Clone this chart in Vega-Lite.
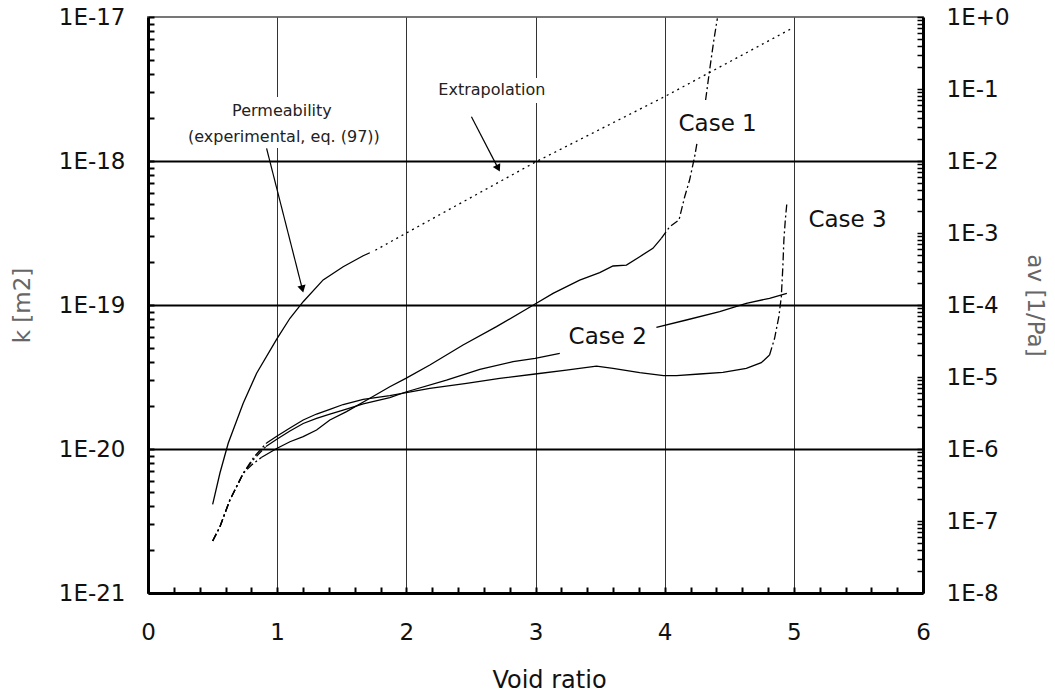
{
  "$schema": "https://vega.github.io/schema/vega-lite/v6.json",
  "width": 775,
  "height": 576,
  "autosize": {"type": "none"},
  "padding": {"left": 148, "top": 17, "right": 132, "bottom": 103},
  "config": {
    "view": {"stroke": "#777", "strokeWidth": 2},
    "axis": {"labelFont": "DejaVu Sans", "titleFont": "DejaVu Sans"},
    "text": {"font": "DejaVu Sans"}
  },
  "datasets": {
    "perm": [
      {"x": 0.5006, "y": 4.13e-21}, {"x": 0.557, "y": 6.81e-21}, {"x": 0.621, "y": 1.096e-20},
      {"x": 0.737, "y": 2.075e-20}, {"x": 0.841, "y": 3.357e-20}, {"x": 1.0, "y": 5.87e-20},
      {"x": 1.099, "y": 8.09e-20}, {"x": 1.2015, "y": 1.054e-19}, {"x": 1.356, "y": 1.493e-19},
      {"x": 1.511, "y": 1.845e-19}, {"x": 1.666, "y": 2.198e-19}, {"x": 1.7176, "y": 2.307e-19}
    ],
    "extrap": [
      {"x": 1.76, "y": 2.4e-19}, {"x": 2.0, "y": 3.16e-19}, {"x": 3.0, "y": 9.84e-19},
      {"x": 4.0, "y": 2.8e-18}, {"x": 4.972, "y": 8.22e-18}
    ],
    "boxes": [
      {"x": 0.248, "x2": 1.857, "y": 2.78e-18, "y2": 1.23e-18},
      {"x": 2.18, "x2": 3.16, "y": 3.77e-18, "y2": 2.53e-18}
    ],
    "smallLabels": [
      {"x": 1.037, "y": 2.22e-18, "label": "Permeability"},
      {"x": 1.052, "y": 1.468e-18, "label": "(experimental, eq. (97))"},
      {"x": 2.662, "y": 3.11e-18, "label": "Extrapolation"}
    ],
    "bigLabels": [
      {"x": 4.41, "y": 1.807e-18, "label": "Case 1"},
      {"x": 5.416, "y": 3.89e-19, "label": "Case 3"},
      {"x": 3.559, "y": 6.0e-20, "label": "Case 2"}
    ],
    "arrows": [
      {"x": 0.918, "y": 1.225e-18, "x2": 1.195, "y2": 1.291e-19},
      {"x": 2.504, "y": 2.03e-18, "x2": 2.711, "y2": 8.89e-19}
    ],
    "casesSolid": [
      {"seg": "c1", "x": 0.88, "y": 7.67e-7}, {"seg": "c1", "x": 1.0, "y": 1.023e-6},
      {"seg": "c1", "x": 1.099, "y": 1.262e-6}, {"seg": "c1", "x": 1.2015, "y": 1.483e-6},
      {"seg": "c1", "x": 1.305, "y": 1.836e-6}, {"seg": "c1", "x": 1.408, "y": 2.53e-6},
      {"seg": "c1", "x": 1.537, "y": 3.3e-6}, {"seg": "c1", "x": 1.718, "y": 5.06e-6},
      {"seg": "c1", "x": 1.872, "y": 7.33e-6}, {"seg": "c1", "x": 1.996, "y": 9.59e-6},
      {"seg": "c1", "x": 2.182, "y": 1.468e-5}, {"seg": "c1", "x": 2.439, "y": 2.78e-5},
      {"seg": "c1", "x": 2.698, "y": 5.0e-5}, {"seg": "c1", "x": 2.997, "y": 1.032e-4},
      {"seg": "c1", "x": 3.136, "y": 1.453e-4}, {"seg": "c1", "x": 3.342, "y": 2.22e-4},
      {"seg": "c1", "x": 3.497, "y": 2.81e-4}, {"seg": "c1", "x": 3.6, "y": 3.48e-4},
      {"seg": "c1", "x": 3.704, "y": 3.59e-4}, {"seg": "c1", "x": 3.807, "y": 4.69e-4},
      {"seg": "c1", "x": 3.909, "y": 6.13e-4}, {"seg": "c1", "x": 3.974, "y": 8.44e-4},
      {"seg": "c2a", "x": 0.913, "y": 1.083e-6}, {"seg": "c2a", "x": 1.0, "y": 1.377e-6},
      {"seg": "c2a", "x": 1.099, "y": 1.778e-6}, {"seg": "c2a", "x": 1.2015, "y": 2.26e-6},
      {"seg": "c2a", "x": 1.305, "y": 2.67e-6}, {"seg": "c2a", "x": 1.408, "y": 3.06e-6},
      {"seg": "c2a", "x": 1.511, "y": 3.48e-6}, {"seg": "c2a", "x": 1.666, "y": 4.22e-6},
      {"seg": "c2a", "x": 1.872, "y": 5.19e-6}, {"seg": "c2a", "x": 1.996, "y": 6.19e-6},
      {"seg": "c2a", "x": 2.311, "y": 9.08e-6}, {"seg": "c2a", "x": 2.569, "y": 1.28e-5},
      {"seg": "c2a", "x": 2.826, "y": 1.63e-5}, {"seg": "c2a", "x": 2.997, "y": 1.82e-5},
      {"seg": "c2a", "x": 3.188, "y": 2.13e-5},
      {"seg": "c2b", "x": 3.936, "y": 4.9e-5}, {"seg": "c2b", "x": 4.168, "y": 6.19e-5},
      {"seg": "c2b", "x": 4.426, "y": 8.07e-5}, {"seg": "c2b", "x": 4.632, "y": 1.056e-4},
      {"seg": "c2b", "x": 4.812, "y": 1.239e-4}, {"seg": "c2b", "x": 4.946, "y": 1.453e-4},
      {"seg": "c3", "x": 0.918, "y": 1.211e-6}, {"seg": "c3", "x": 1.0, "y": 1.517e-6},
      {"seg": "c3", "x": 1.099, "y": 1.958e-6}, {"seg": "c3", "x": 1.2015, "y": 2.53e-6},
      {"seg": "c3", "x": 1.305, "y": 3.06e-6}, {"seg": "c3", "x": 1.408, "y": 3.56e-6},
      {"seg": "c3", "x": 1.511, "y": 4.15e-6}, {"seg": "c3", "x": 1.666, "y": 4.9e-6},
      {"seg": "c3", "x": 1.872, "y": 5.53e-6}, {"seg": "c3", "x": 2.182, "y": 6.97e-6},
      {"seg": "c3", "x": 2.466, "y": 8.18e-6}, {"seg": "c3", "x": 2.723, "y": 9.59e-6},
      {"seg": "c3", "x": 2.997, "y": 1.1e-5}, {"seg": "c3", "x": 3.239, "y": 1.25e-5},
      {"seg": "c3", "x": 3.472, "y": 1.42e-5}, {"seg": "c3", "x": 3.6, "y": 1.32e-5},
      {"seg": "c3", "x": 3.807, "y": 1.148e-5}, {"seg": "c3", "x": 3.992, "y": 1.042e-5},
      {"seg": "c3", "x": 4.091, "y": 1.042e-5}, {"seg": "c3", "x": 4.271, "y": 1.1e-5},
      {"seg": "c3", "x": 4.451, "y": 1.162e-5}, {"seg": "c3", "x": 4.632, "y": 1.32e-5},
      {"seg": "c3", "x": 4.748, "y": 1.58e-5}, {"seg": "c3", "x": 4.812, "y": 2.02e-5}
    ],
    "casesDash": [
      {"seg": "d1a", "x": 0.5006, "y": 5.27e-8}, {"seg": "d1a", "x": 0.557, "y": 8.34e-8},
      {"seg": "d1a", "x": 0.634, "y": 1.96e-7}, {"seg": "d1a", "x": 0.699, "y": 3.34e-7},
      {"seg": "d1a", "x": 0.737, "y": 4.59e-7}, {"seg": "d1a", "x": 0.802, "y": 6.0e-7},
      {"seg": "d1a", "x": 0.88, "y": 7.67e-7},
      {"seg": "d1b", "x": 3.974, "y": 8.44e-4}, {"seg": "d1b", "x": 4.039, "y": 1.224e-3},
      {"seg": "d1b", "x": 4.111, "y": 1.517e-3}, {"seg": "d1b", "x": 4.155, "y": 3.19e-3},
      {"seg": "d1b", "x": 4.193, "y": 5.44e-3}, {"seg": "d1b", "x": 4.232, "y": 1.148e-2},
      {"seg": "d1b", "x": 4.25, "y": 1.762e-2},
      {"seg": "d1c", "x": 4.317, "y": 7.03e-2}, {"seg": "d1c", "x": 4.348, "y": 0.1837},
      {"seg": "d1c", "x": 4.381, "y": 0.48}, {"seg": "d1c", "x": 4.408, "y": 0.959},
      {"seg": "d2a", "x": 0.5006, "y": 5.27e-8}, {"seg": "d2a", "x": 0.557, "y": 8.34e-8},
      {"seg": "d2a", "x": 0.634, "y": 1.96e-7}, {"seg": "d2a", "x": 0.699, "y": 3.34e-7},
      {"seg": "d2a", "x": 0.737, "y": 4.59e-7}, {"seg": "d2a", "x": 0.82, "y": 7.26e-7},
      {"seg": "d2a", "x": 0.913, "y": 1.083e-6},
      {"seg": "d3a", "x": 0.5006, "y": 5.27e-8}, {"seg": "d3a", "x": 0.557, "y": 8.34e-8},
      {"seg": "d3a", "x": 0.634, "y": 1.96e-7}, {"seg": "d3a", "x": 0.699, "y": 3.34e-7},
      {"seg": "d3a", "x": 0.737, "y": 4.59e-7}, {"seg": "d3a", "x": 0.82, "y": 7.74e-7},
      {"seg": "d3a", "x": 0.918, "y": 1.211e-6},
      {"seg": "d3b", "x": 4.812, "y": 2.02e-5}, {"seg": "d3b", "x": 4.851, "y": 3.45e-5},
      {"seg": "d3b", "x": 4.884, "y": 6.88e-5}, {"seg": "d3b", "x": 4.903, "y": 1.303e-4},
      {"seg": "d3b", "x": 4.915, "y": 3.4e-4}, {"seg": "d3b", "x": 4.923, "y": 8.0e-4},
      {"seg": "d3b", "x": 4.934, "y": 1.517e-3}, {"seg": "d3b", "x": 4.946, "y": 2.585e-3}
    ]
  },
  "layer": [
    {
      "encoding": {
        "x": {
          "field": "x", "type": "quantitative",
          "scale": {"domain": [0, 6], "nice": false, "zero": false},
          "axis": {
            "orient": "bottom",
            "title": "Void ratio",
            "values": [0,1,2,3,4,5,6],
            "format": "d",
            "labelOverlap": false, "labelFlush": false, "labelBound": false,
            "grid": true, "gridColor": "#333", "gridWidth": 1,
            "gridOpacity": {"condition": {"test": "datum.value > 0 && datum.value < 6", "value": 1}, "value": 0},
            "ticks": false,
            "domainColor": "black", "domainWidth": 3,
            "labelFontSize": 23, "labelPadding": 28, "labelColor": "#111",
            "titleFontSize": 24, "titleFontWeight": "normal", "titleColor": "#111",
            "titleX": 401, "titleY": 75
          }
        }
      },
      "layer": [
        {
          "encoding": {
            "y": {
              "field": "y", "type": "quantitative",
              "scale": {"type": "log", "domain": [1e-21, 1e-17], "nice": false},
              "axis": {
                "orient": "left",
                "title": "k [m2]",
                "values": [1e-21, 1e-20, 1e-19, 1e-18, 1e-17],
                "labelExpr": "'1E' + round(log(datum.value)/LN10)",
                "labelOverlap": false, "labelFlush": false, "labelBound": false,
                "grid": true, "gridColor": "black", "gridWidth": 2,
                "gridOpacity": {"condition": {"test": "datum.value > 5e-21 && datum.value < 5e-18", "value": 1}, "value": 0},
                "ticks": false,
                "domainColor": "black", "domainWidth": 3,
                "labelFontSize": 23, "labelPadding": 23, "labelColor": "#111",
                "titleFontSize": 23, "titleFontWeight": "normal", "titleColor": "#666",
                "titlePadding": 24
              }
            }
          },
          "layer": [
            {"data": {"name": "perm"}, "mark": {"type": "line", "color": "black", "strokeWidth": 1.3}},
            {"data": {"name": "extrap"}, "mark": {"type": "line", "color": "black", "strokeWidth": 1.3, "strokeDash": [2, 4]}},
            {"data": {"name": "boxes"}, "mark": {"type": "rect", "color": "white", "opacity": 1},
             "encoding": {"x2": {"field": "x2"}, "y2": {"field": "y2"}}},
            {"data": {"name": "arrows"}, "mark": {"type": "rule", "color": "black", "strokeWidth": 1.2},
             "encoding": {"x2": {"field": "x2"}, "y2": {"field": "y2"}}},
            {"data": {"values": [{"x": 1.195, "y": 1.291e-19}]}, "mark": {"type": "point", "shape": "triangle-down", "filled": true, "color": "black", "opacity": 1, "size": 70, "angle": -14}},
            {"data": {"values": [{"x": 2.711, "y": 8.89e-19}]}, "mark": {"type": "point", "shape": "triangle-down", "filled": true, "color": "black", "opacity": 1, "size": 70, "angle": -27}},
            {"data": {"name": "smallLabels"}, "mark": {"type": "text", "fontSize": 16, "color": "#222", "align": "center", "baseline": "middle"},
             "encoding": {"text": {"field": "label"}}},
            {"data": {"name": "bigLabels"}, "mark": {"type": "text", "fontSize": 23, "color": "#111", "align": "center", "baseline": "middle"},
             "encoding": {"text": {"field": "label"}}}
          ]
        },
        {
          "data": {"name": "perm"},
          "mark": {"type": "point", "opacity": 0},
          "encoding": {
            "y": {
              "field": "y", "type": "quantitative",
              "scale": {"type": "log", "domain": [1e-21, 1e-17], "nice": false},
              "axis": {
                "orient": "left", "offset": -6, "title": null,
                "values": [1e-21,2e-21,3e-21,4e-21,5e-21,6e-21,7e-21,8e-21,9e-21,1e-20,2e-20,3e-20,4e-20,5e-20,6e-20,7e-20,8e-20,9e-20,1e-19,2e-19,3e-19,4e-19,5e-19,6e-19,7e-19,8e-19,9e-19,1e-18,2e-18,3e-18,4e-18,5e-18,6e-18,7e-18,8e-18,9e-18,1e-17],
                "labels": false, "domain": false, "grid": false,
                "ticks": true, "tickSize": 6, "tickColor": "black", "tickWidth": 2
              }
            }
          }
        }
      ],
      "resolve": {"axis": {"y": "independent"}}
    },
    {
      "encoding": {
        "x": {
          "field": "x", "type": "quantitative",
          "scale": {"domain": [0, 6], "nice": false, "zero": false},
          "axis": {
            "orient": "bottom", "offset": -6, "title": null,
            "values": [0,0.2,0.4,0.6,0.8,1,1.2,1.4,1.6,1.8,2,2.2,2.4,2.6,2.8,3,3.2,3.4,3.6,3.8,4,4.2,4.4,4.6,4.8,5,5.2,5.4,5.6,5.8,6],
            "labels": false, "domain": false, "grid": false,
            "ticks": true, "tickSize": 6, "tickColor": "black", "tickWidth": 2
          }
        }
      },
      "layer": [
        {
          "encoding": {
            "y": {
              "field": "y", "type": "quantitative",
              "scale": {"type": "log", "domain": [1e-8, 1], "nice": false},
              "axis": {
                "orient": "right",
                "title": "av [1/Pa]",
                "values": [1e-8,1e-7,1e-6,1e-5,1e-4,1e-3,1e-2,1e-1,1],
                "labelExpr": "'1E' + (round(log(datum.value)/LN10) >= 0 ? '+' : '') + round(log(datum.value)/LN10)",
                "labelOverlap": false, "labelFlush": false, "labelBound": false,
                "grid": false, "ticks": false,
                "domainColor": "black", "domainWidth": 3,
                "labelFontSize": 23, "labelPadding": 23, "labelColor": "#111",
                "titleFontSize": 23, "titleFontWeight": "normal", "titleColor": "#666",
                "titleAngle": 90, "titlePadding": 13
              }
            },
            "detail": {"field": "seg"}
          },
          "layer": [
            {"data": {"name": "casesSolid"}, "mark": {"type": "line", "color": "black", "strokeWidth": 1.3}},
            {"data": {"name": "casesDash"}, "mark": {"type": "line", "color": "black", "strokeWidth": 1.3, "strokeDash": [8, 3, 2, 3]}}
          ]
        },
        {
          "data": {"name": "casesDash"},
          "mark": {"type": "point", "opacity": 0},
          "encoding": {
            "y": {
              "field": "y", "type": "quantitative",
              "scale": {"type": "log", "domain": [1e-8, 1], "nice": false},
              "axis": {
                "orient": "right", "offset": -6, "title": null,
                "values": [1e-8,2e-8,3e-8,4e-8,5e-8,6e-8,7e-8,8e-8,9e-8,1e-7,2e-7,3e-7,4e-7,5e-7,6e-7,7e-7,8e-7,9e-7,1e-6,2e-6,3e-6,4e-6,5e-6,6e-6,7e-6,8e-6,9e-6,1e-5,2e-5,3e-5,4e-5,5e-5,6e-5,7e-5,8e-5,9e-5,1e-4,2e-4,3e-4,4e-4,5e-4,6e-4,7e-4,8e-4,9e-4,1e-3,2e-3,3e-3,4e-3,5e-3,6e-3,7e-3,8e-3,9e-3,1e-2,2e-2,3e-2,4e-2,5e-2,6e-2,7e-2,8e-2,9e-2,0.1,0.2,0.3,0.4,0.5,0.6,0.7,0.8,0.9,1],
                "labels": false, "domain": false, "grid": false,
                "ticks": true, "tickSize": 6, "tickColor": "black", "tickWidth": 1.5
              }
            }
          }
        }
      ],
      "resolve": {"axis": {"y": "independent"}}
    }
  ],
  "resolve": {"scale": {"y": "independent"}, "axis": {"x": "independent", "y": "independent"}}
}
